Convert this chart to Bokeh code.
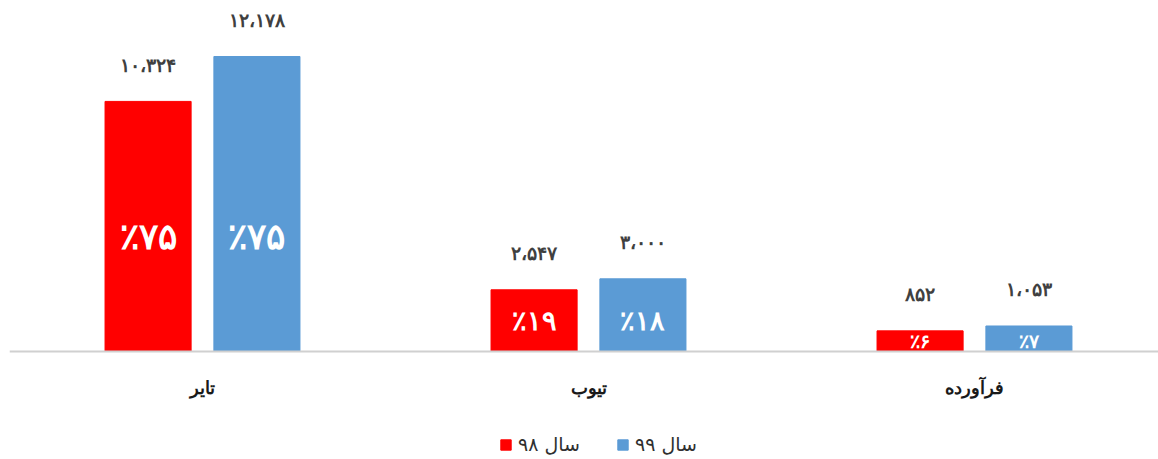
from bokeh.plotting import figure
from bokeh.models import ColumnDataSource, Range1d, Legend, LegendItem, LabelSet, Span
from bokeh.embed import file_html
from bokeh.resources import INLINE

categories = ["تایر", "تیوب", "فرآورده"]
series_names = ["سال ۹۸", "سال ۹۹"]
values_98 = [10324, 2547, 852]
values_99 = [12178, 3000, 1053]
pct_98 = ["٪۷۵", "٪۱۹", "٪۶"]
pct_99 = ["٪۷۵", "٪۱۸", "٪۷"]

RED = "#FF0000"
BLUE = "#5B9BD5"
FONT = "DejaVu Sans"
PCT_SIZES = ["36px", "27px", "19px"]
PCT_SHIFT = [-11, 0, 0]

FA_DIGITS = str.maketrans("0123456789,", "۰۱۲۳۴۵۶۷۸۹،")


def fa(n):
    return f"{n:,}".translate(FA_DIGITS)


W, H = 1158, 459
FRAME_LEFT = 9
BASE_PX = 351           # baseline distance from top
PX_PER_CAT = 386.0
PX_PER_UNIT = 295.0 / max(values_99)

xc = [i + 0.5 for i in range(len(categories))]
off = 0.141
bw = 0.223
pct_y = [min(a, b) / 2 for a, b in zip(values_98, values_99)]

src98 = ColumnDataSource(dict(
    x=[c - off for c in xc], top=values_98, lab=[fa(v) for v in values_98],
    pct=pct_98, py=pct_y, fs=PCT_SIZES, dy=PCT_SHIFT))
src99 = ColumnDataSource(dict(
    x=[c + off for c in xc], top=values_99, lab=[fa(v) for v in values_99],
    pct=pct_99, py=pct_y, fs=PCT_SIZES, dy=PCT_SHIFT))
cat_src = ColumnDataSource(dict(x=xc, y=[0] * len(xc), t=categories))

p = figure(width=W, height=H, output_backend="svg", toolbar_location=None,
           x_range=Range1d(0, (W - FRAME_LEFT) / PX_PER_CAT),
           y_range=Range1d(-(H - BASE_PX) / PX_PER_UNIT, BASE_PX / PX_PER_UNIT),
           x_axis_location=None, y_axis_location=None,
           min_border_left=FRAME_LEFT, min_border_right=0,
           min_border_top=0, min_border_bottom=0)
p.outline_line_color = None
p.xgrid.visible = False
p.ygrid.visible = False

p.add_layout(Span(location=0, dimension="width", line_color="#d0d0d0", line_width=2))

r98 = p.vbar(x="x", top="top", bottom=0, width=bw, source=src98, color=RED)
r99 = p.vbar(x="x", top="top", bottom=0, width=bw, source=src99, color=BLUE)

for s in (src98, src99):
    p.add_layout(LabelSet(x="x", y="top", text="lab", source=s, y_offset=36,
                          text_align="center", text_baseline="middle",
                          text_font=FONT, text_font_size="19px",
                          text_font_style="bold", text_color="#404040"))
    p.add_layout(LabelSet(x="x", y="py", text="pct", source=s, y_offset="dy",
                          text_align="center", text_baseline="middle",
                          text_font=FONT, text_font_size={"field": "fs"},
                          text_font_style="bold", text_color="white"))

p.add_layout(LabelSet(x="x", y="y", text="t", source=cat_src, y_offset=-36,
                      text_align="center", text_baseline="middle",
                      text_font=FONT, text_font_size="18px",
                      text_font_style="bold", text_color="#1a1a1a"))

legend = Legend(items=[LegendItem(label=series_names[0], renderers=[r98]),
                       LegendItem(label=series_names[1], renderers=[r99])],
                orientation="horizontal", location=(490, 4),
                glyph_width=13, glyph_height=13, label_standoff=6, spacing=36,
                padding=0, margin=0, border_line_color=None,
                background_fill_alpha=0,
                label_text_font=FONT, label_text_font_size="19px",
                label_text_color="#303030")
p.add_layout(legend, "center")

open("out.html", "w").write(file_html(p, INLINE))
